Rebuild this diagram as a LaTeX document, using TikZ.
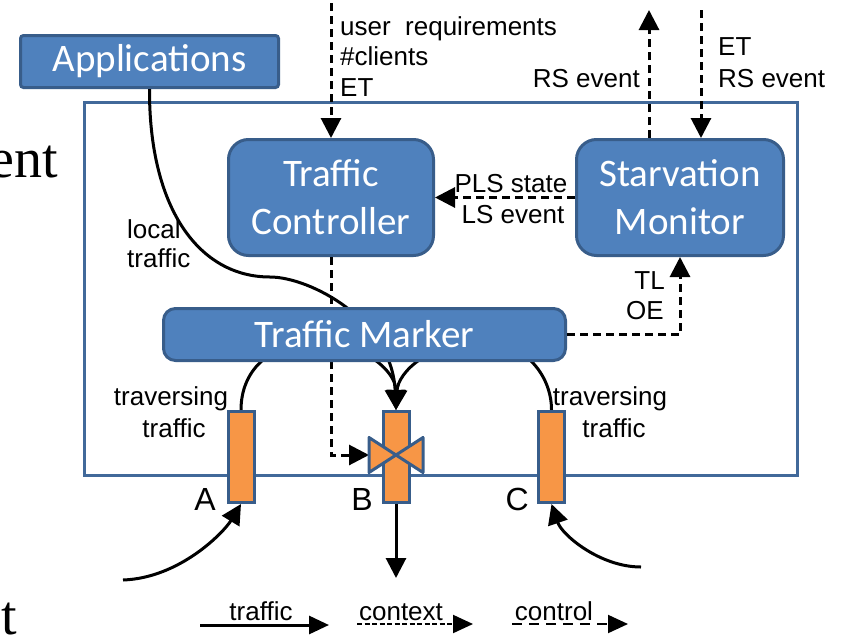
\documentclass[tikz,border=0pt]{standalone}
\usepackage{fontspec}
\setmainfont{Liberation Sans}
\newfontfamily\boxfont{Carlito}
\newfontfamily\serifbg{Liberation Serif}
\usetikzlibrary{arrows.meta}
\definecolor{fillblue}{HTML}{4F81BD}
\definecolor{bordblue}{HTML}{385D8A}
\definecolor{framebl}{HTML}{41699A}
\definecolor{orng}{HTML}{F79646}
\tikzset{
  blk/.style={draw=bordblue, fill=fillblue, line width=3pt, text=white,
    font=\boxfont\fontsize{39}{48}\selectfont, align=center, inner sep=0pt},
  lbl/.style={font=\fontsize{26}{30}\selectfont, inner sep=0pt},
  letter/.style={font=\fontsize{32}{36}\selectfont, inner sep=0pt, anchor=base east},
  barbox/.style={draw=bordblue, fill=orng, line width=3pt, minimum width=26pt,
    minimum height=91pt, inner sep=0pt},
  flow/.style={line width=3pt, -{Triangle[length=20pt,width=20pt]}},
  ctl/.style={line width=3pt, dash pattern=on 8pt off 5pt, -{Triangle[length=20pt,width=20pt]}},
  legtip/.style={-{Triangle[length=20pt,width=18pt]}}
}
\begin{document}
\begin{tikzpicture}[x=1pt,y=-1pt]
\useasboundingbox (0,0) rectangle (843,635);
\clip (0,0) rectangle (843,635);

% background slide fragments
\node[font=\serifbg\fontsize{56}{60}\selectfont, anchor=base east, inner sep=0pt] (bgent) at (58,177) {ent};
\node[font=\serifbg\fontsize{56}{60}\selectfont, anchor=base west, inner sep=0pt] (bgt) at (1,634) {t};

% frame
\node[draw=framebl, line width=3pt, minimum width=713pt, minimum height=373pt, inner sep=0pt] (frame) at (441,289) {};

% Applications
\node[blk, rounded corners=3pt, minimum width=258pt, minimum height=52pt] (app) at (149.5,61.5) {Applications};

% Traffic controller / Starvation monitor
\node[blk, rounded corners=20pt, minimum width=205pt, minimum height=116pt] (tc) at (331,197.5) {Traffic\\Controller};
\node[blk, rounded corners=20pt, minimum width=207pt, minimum height=116pt] (sm) at (680,197.5) {Starvation\\Monitor};

% bar tops (for the flows)
\coordinate (barAn) at (241,410);
\coordinate (barBn) at (396,410);
\coordinate (barCn) at (551.5,410);

% traffic flows (behind marker)
\draw[flow] (app.south) .. controls (149,210) and (200,277) .. (270,277)
  .. controls (310,277) and (392,320) .. (barBn);
\draw[flow] (barAn) .. controls (241,370) and (270,345) .. (310,342)
  .. controls (360,340) and (396,370) .. (barBn);
\draw[flow] (barCn) .. controls (551.5,375) and (525,345) .. (490,342)
  .. controls (430,340) and (398,372) .. (barBn);

% bowtie coordinates
\coordinate (bt) at (396,455);
\coordinate (btw) at (369,455);

% control from traffic controller to B
\draw[ctl] (tc.south) |- (btw);

% Traffic marker
\node[blk, rounded corners=12pt, minimum width=402pt, minimum height=52pt] (tm) at (364.5,334.5) {Traffic Marker};

% bars
\node[barbox] (barA) at (241,457) {};
\node[barbox] (barB) at (396,457) {};
\node[barbox] (barC) at (551.5,457) {};

% bowtie
\filldraw[draw=bordblue, fill=orng, line width=3pt, line join=round]
  (369,437.5) -- (369,472.5) -- (bt) -- cycle
  (423,437.5) -- (423,472.5) -- (bt) -- cycle;

% incoming / outgoing traffic
\coordinate (inA) at (123,580);
\coordinate (inC) at (641,567);
\coordinate (outB) at (396,578);
\draw[flow] (inA) .. controls (180,578) and (224,532) .. (barA.south);
\draw[flow] (inC) .. controls (600,567) and (562,535) .. (barC.south);
\draw[flow] (barB.south) -- (outB);

% control / context arrows
\coordinate (tcin) at (331,3);
\coordinate (rsout) at (649,10);
\coordinate (smin) at (701,10);
\draw[ctl] (tcin) -- (tc.north);
\draw[ctl] (sm.north -| rsout) -- (rsout);
\draw[ctl] (smin) -- (sm.north -| smin);
\draw[ctl] (sm.west) -- (tc.east);
\draw[ctl] (tm.east) -| (sm.south);

% labels
\node[lbl, anchor=base west] (ur1) at (340,35) {user\ \ requirements};
\node[lbl, anchor=base west] (ur2) at (340,65) {\#clients};
\node[lbl, anchor=base west] (ur3) at (340,96) {ET};
\node[lbl, anchor=base east] (rs1) at (640,87) {RS event};
\node[lbl, anchor=base west] (et2) at (718,55) {ET};
\node[lbl, anchor=base west] (rs2) at (718,87) {RS event};
\node[lbl, anchor=base] (pls) at (511,192) {PLS state};
\node[lbl, anchor=base] (lse) at (513,223) {LS event};
\node[lbl, anchor=base west] (loc1) at (127,238) {local};
\node[lbl, anchor=base west] (loc2) at (127,267) {traffic};
\node[lbl, anchor=base east] (tl) at (665,289) {TL};
\node[lbl, anchor=base east] (oe) at (664,319) {OE};
\node[lbl, anchor=base] (trA1) at (171,405) {traversing};
\node[lbl, anchor=base] (trA2) at (174,437) {traffic};
\node[lbl, anchor=base] (trC1) at (610,405) {traversing};
\node[lbl, anchor=base] (trC2) at (614,437) {traffic};
\node[letter] (lA) at (216,510) {A};
\node[letter] (lB) at (373,510) {B};
\node[letter] (lC) at (529,510) {C};

% legend
\coordinate (l1s) at (200,625); \coordinate (l1e) at (329,625);
\coordinate (l2s) at (357,624); \coordinate (l2e) at (473,624);
\coordinate (l3s) at (512,624); \coordinate (l3e) at (628,624);
\draw[line width=3pt, legtip] (l1s) -- (l1e);
\draw[line width=2pt, dash pattern=on 5pt off 2.5pt, legtip] (l2s) -- (l2e);
\draw[line width=2pt, dash pattern=on 10pt off 7pt, legtip] (l3s) -- (l3e);
\node[lbl, anchor=base] (lg1) at (261,620) {traffic};
\node[lbl, anchor=base] (lg2) at (401,620) {context};
\node[lbl, anchor=base] (lg3) at (554,620) {control};
\end{tikzpicture}
\end{document}
